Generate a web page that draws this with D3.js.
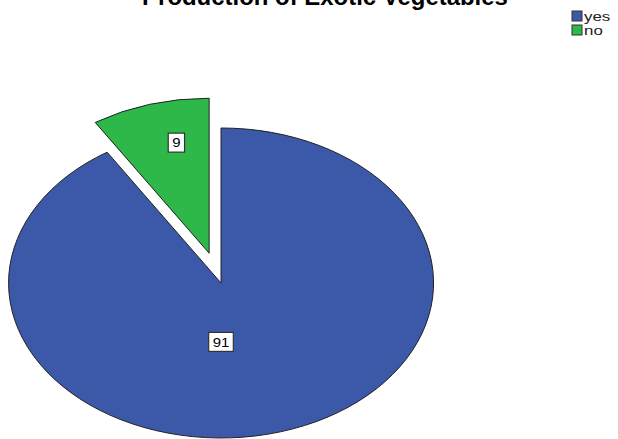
<!DOCTYPE html>
<html>
<head>
<meta charset="utf-8">
<script src="https://cdn.jsdelivr.net/npm/d3@7"></script>
<style>
  body { margin: 0; background: #fff; }
  svg { display: block; font-family: Arial, "Liberation Sans", sans-serif; }
</style>
</head>
<body>
<div id="container"></div>
<script>
let title = 'Production of Exotic Vegetables',
  categories = ['yes', 'no'],
  values = [91, 9],
  colors = ['#3c58a8', '#2eb84a'],
  exploded = [false, true]

let width = 618,
  height = 439,
  cx = 221,
  cy = 283,
  rx = 212.5,
  ry = 155,
  explode = 0.2,
  stretch = 1.35 // the original picture is widened, text included

let svg = d3.select('#container')
  .append('svg')
  .attr('width', width)
  .attr('height', height)

// title, partly cut off at the top like the original
let t = svg.append('text')
  .attr('x', 325)
  .attr('y', 5)
  .attr('text-anchor', 'middle')
  .attr('font-weight', 'bold')
  .attr('font-size', 20)
  .attr('fill', '#000')
  .text(title)
let tw = t.node().getComputedTextLength()
t.attr('font-size', 20 * 366 / tw)

let pie = d3.pie().sort(null).value(d => d)
let arcs = pie(values)

// unit circle arc, stretched to an ellipse afterwards
let arc = d3.arc().innerRadius(0).outerRadius(1)

let g = svg.append('g')
  .attr('transform', 'translate(' + cx + ',' + cy + ') scale(' + rx + ',' + ry + ')')

g.selectAll('path')
  .data(arcs).enter().append('path')
  .attr('transform', (d, i) => {
    if (!exploded[i]) return null
    let a = (d.startAngle + d.endAngle) / 2
    return 'translate(' + (Math.sin(a) * explode) + ',' + (-Math.cos(a) * explode) + ')'
  })
  .attr('d', arc)
  .attr('fill', (d, i) => colors[i])
  .attr('stroke', '#222')
  .attr('stroke-width', 1)
  .attr('vector-effect', 'non-scaling-stroke')

// value labels (boxed)
let labelSpot = [
  { angle: Math.PI, r: 0.38 },
  { angle: null, r: 0.73 }
]
let labels = svg.selectAll('g.lbl')
  .data(arcs).enter().append('g')
  .attr('class', 'lbl')
  .attr('transform', (d, i) => {
    let mid = (d.startAngle + d.endAngle) / 2
    let a = labelSpot[i].angle == null ? mid + 0.07 : labelSpot[i].angle
    let r = labelSpot[i].r
    let ox = exploded[i] ? Math.sin(mid) * explode : 0
    let oy = exploded[i] ? -Math.cos(mid) * explode : 0
    let x = cx + (Math.sin(a) * r + ox) * rx
    let y = cy + (-Math.cos(a) * r + oy) * ry
    return 'translate(' + x + ',' + y + ')'
  })

labels.each(function (d, i) {
  let sel = d3.select(this)
  let txt = sel.append('text')
    .attr('text-anchor', 'middle')
    .attr('dy', '0.36em')
    .attr('font-size', 13)
    .attr('fill', '#000')
    .text(values[i])
  let w = txt.node().getComputedTextLength() * 1.15 + 8
  txt.attr('textLength', w - 8).attr('lengthAdjust', 'spacingAndGlyphs')
  sel.insert('rect', 'text')
    .attr('x', -w / 2)
    .attr('y', -9.5)
    .attr('width', w)
    .attr('height', 19)
    .attr('fill', '#fff')
    .attr('stroke', '#333')
    .attr('stroke-width', 1.2)
})

// legend
let legend = svg.append('g')
  .attr('transform', 'translate(572,11)')

let items = legend.selectAll('g')
  .data(categories).enter().append('g')
  .attr('transform', (d, i) => 'translate(0,' + (i * 14) + ')')

items.append('rect')
  .attr('width', 10)
  .attr('height', 10)
  .attr('fill', (d, i) => colors[i])
  .attr('stroke', '#333')
  .attr('stroke-width', 1)

items.append('text')
  .attr('x', 12)
  .attr('y', 10)
  .attr('font-size', 12.5)
  .attr('fill', '#222')
  .text(d => d)
  .each(function () {
    let w = this.getComputedTextLength() * stretch
    d3.select(this).attr('textLength', w).attr('lengthAdjust', 'spacingAndGlyphs')
  })
</script>
</body>
</html>
